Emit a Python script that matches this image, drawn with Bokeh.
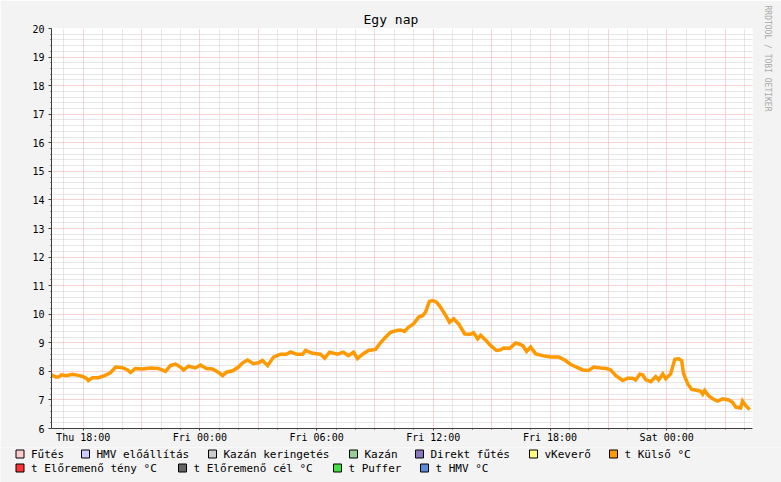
import numpy as np
import pandas as pd
from bokeh.plotting import figure
from bokeh.models import (Range1d, FixedTicker, DatetimeTickFormatter, Title)
from bokeh.core.properties import value
from bokeh.embed import file_html
from bokeh.resources import INLINE

# ---------------- data ----------------
times_thu = ["16:22", "16:35", "16:44", "16:53", "17:08", "17:27", "17:45", "17:58",
             "18:10", "18:16", "18:29", "18:47", "19:06", "19:24", "19:40", "20:01",
             "20:17", "20:26", "20:41", "21:03", "21:28", "21:52", "22:14", "22:29",
             "22:45", "23:00", "23:10", "23:25", "23:46"]
temps_thu = [7.88, 7.80, 7.80, 7.88, 7.85, 7.90, 7.86, 7.82,
             7.75, 7.68, 7.78, 7.78, 7.85, 7.95, 8.15, 8.13,
             8.05, 7.96, 8.10, 8.08, 8.12, 8.10, 8.00, 8.20,
             8.25, 8.15, 8.05, 8.18, 8.12]
times_fri = ["00:02", "00:20", "00:39", "00:55", "01:10", "01:22", "01:41", "01:59",
             "02:12", "02:27", "02:45", "03:01", "03:13", "03:29", "03:47", "04:09",
             "04:27", "04:40", "04:58", "05:17", "05:26", "05:47", "06:12", "06:25",
             "06:40", "07:05", "07:23", "07:38", "07:54", "08:06", "08:22", "08:40",
             "09:02", "09:17", "09:29", "09:48", "10:07", "10:19", "10:31", "10:44",
             "10:59", "11:15", "11:27", "11:36", "11:48", "11:58", "12:10", "12:22",
             "12:38", "12:50", "13:03", "13:18", "13:37", "13:55", "14:04", "14:17",
             "14:26", "14:41", "14:57", "15:15", "15:27", "15:37", "15:55", "16:14",
             "16:26", "16:36", "16:48", "17:00", "17:16", "17:37", "18:02", "18:27",
             "18:48", "19:04", "19:22", "19:41", "19:59", "20:15", "20:36", "20:55",
             "21:07", "21:23", "21:32", "21:44", "22:00", "22:15", "22:24", "22:37",
             "22:46", "22:55", "23:11", "23:26", "23:35", "23:48", "23:57"]
temps_fri = [8.22, 8.10, 8.08, 7.98, 7.85, 7.97, 8.02, 8.15,
             8.30, 8.40, 8.27, 8.30, 8.38, 8.20, 8.50, 8.60,
             8.60, 8.68, 8.60, 8.60, 8.73, 8.63, 8.60, 8.46,
             8.67, 8.60, 8.67, 8.55, 8.67, 8.45, 8.60, 8.73,
             8.77, 9.00, 9.15, 9.37, 9.43, 9.45, 9.40, 9.55,
             9.66, 9.90, 9.95, 10.07, 10.45, 10.48, 10.42, 10.25,
             9.96, 9.72, 9.84, 9.66, 9.31, 9.30, 9.35, 9.14,
             9.26, 9.10, 8.90, 8.73, 8.75, 8.82, 8.80, 8.99,
             8.95, 8.90, 8.70, 8.85, 8.61, 8.55, 8.50, 8.50,
             8.38, 8.24, 8.15, 8.05, 8.03, 8.15, 8.12, 8.10,
             8.05, 7.85, 7.78, 7.68, 7.76, 7.76, 7.70, 7.90,
             7.88, 7.71, 7.64, 7.82, 7.70, 7.91, 7.74]
times_sat = ["00:12", "00:25", "00:37", "00:46", "00:52", "01:05", "01:17", "01:32",
             "01:45", "01:51", "01:57", "02:09", "02:22", "02:37", "02:53", "03:11",
             "03:23", "03:33", "03:48", "03:54", "04:04", "04:16"]
temps_sat = [7.91, 8.42, 8.44, 8.38, 7.92, 7.56, 7.37, 7.34,
             7.30, 7.20, 7.33, 7.15, 7.04, 6.96, 7.04, 7.00,
             6.92, 6.75, 6.72, 6.96, 6.80, 6.66]

day_thu, day_fri, day_sat = "2024-01-18", "2024-01-19", "2024-01-20"
x_start, x_end = "2024-01-18 16:22:12", "2024-01-20 04:24:40"
y_start, y_end = 6, 20

title_text = "Egy nap"
legend_row1 = ["Fűtés", "HMV előállítás", "Kazán keringetés", "Kazán",
               "Direkt fűtés", "vKeverő", "t Külső °C"]
colors_row1 = ["#ffcccc", "#ccccff", "#cccccc", "#99cc99", "#8877bb", "#ffff80", "#ff9900"]
legend_row2 = ["t Előremenő tény °C", "t Előremenő cél °C", "t Puffer", "t HMV °C"]
colors_row2 = ["#ff3333", "#666666", "#44dd44", "#5b8ddb"]
watermark = "RRDTOOL / TOBI OETIKER"

# ---------------- layout (pixel positions of legend texts) ----------------
W, H_MAIN, H_LEG = 781, 447, 35
pos_row1 = [30.5, 96, 223, 364, 430, 544, 624]
pos_row2 = [30.5, 193, 348, 435]
row1_y, row2_y = 453.5, 467.5

times = pd.to_datetime([f"{day_thu} {t}" for t in times_thu] +
                       [f"{day_fri} {t}" for t in times_fri] +
                       [f"{day_sat} {t}" for t in times_sat])
temps = temps_thu + temps_fri + temps_sat


def ms(ts):
    return pd.Timestamp(ts).value // 10**6


MONO = "DejaVu Sans Mono"
BG = "#f3f3f3"
p = figure(width=W, height=H_MAIN, output_backend="svg", toolbar_location=None,
           title=None, x_axis_type="datetime",
           x_range=Range1d(ms(x_start), ms(x_end)),
           y_range=Range1d(y_start, y_end),
           min_border_left=51, min_border_right=29, min_border_top=28,
           min_border_bottom=H_MAIN - 428)
p.border_fill_color = BG
p.background_fill_color = "#ffffff"
p.outline_line_color = None

# ticks
label_ticks = [ms(t) for t in pd.date_range("2024-01-18 18:00", "2024-01-20 00:00", freq="6h")]
grid_major = [ms(t) for t in pd.date_range("2024-01-18 18:00", "2024-01-20 03:00", freq="3h")]
grid_minor = [ms(t) for t in pd.date_range("2024-01-18 17:00", "2024-01-20 04:00", freq="1h")
              if ms(t) not in grid_major]
y_major = list(range(y_start, y_end + 1))
y_minor = [round(v, 1) for v in np.arange(y_start, y_end + 0.001, 0.2)
           if abs(v - round(v)) > 1e-6]

xa = p.xaxis[0]
xa.ticker = FixedTicker(ticks=label_ticks, minor_ticks=grid_minor + grid_major)
fmt = "%a %H:%M"
xa.formatter = DatetimeTickFormatter(hours=fmt, hourmin=fmt, days=fmt, minutes=fmt,
                                     minsec=fmt, seconds=fmt, months=fmt, years=fmt)
ya = p.yaxis[0]
ya.ticker = FixedTicker(ticks=y_major, minor_ticks=y_minor)
for ax in (xa, ya):
    ax.axis_line_color = "#404040"
    ax.major_tick_line_color = "#404040"
    ax.minor_tick_line_color = "#404040"
    ax.major_label_text_font = MONO
    ax.major_label_text_font_size = "10px"
    ax.major_label_text_color = "#000000"
    ax.major_tick_in = 0
    ax.minor_tick_in = 0
xa.major_tick_out = 2
xa.minor_tick_out = 1
xa.major_label_standoff = 1
ya.major_tick_out = 3
ya.minor_tick_out = 1
ya.major_label_standoff = 4

p.xgrid.ticker = FixedTicker(ticks=grid_major, minor_ticks=grid_minor)
p.ygrid.ticker = FixedTicker(ticks=y_major, minor_ticks=y_minor)
for g in (p.xgrid[0], p.ygrid[0]):
    g.grid_line_color = "#f0a8a8"
    g.grid_line_dash = "1 1"
    g.grid_line_width = 1
    g.minor_grid_line_color = "#cfcfcf"
    g.minor_grid_line_dash = "1 1"
    g.minor_grid_line_width = 1

# data line
p.line(times, temps, line_color="#ff9900", line_width=3.5, line_join="miter")

# title and watermark
p.add_layout(Title(text=title_text, align="left", offset=312, standoff=4,
                   vertical_align="bottom", text_font=MONO, text_font_size="13px",
                   text_font_style="normal", text_color="#000000"), "above")
p.add_layout(Title(text=watermark, align="left", offset=-23, standoff=16,
                   vertical_align="top", text_font=MONO, text_font_size="8px",
                   text_font_style="normal", text_color="#a9a9a9"), "right")

# legend strip (pixel coordinates, y grows downwards like the page)
lg = figure(width=W, height=H_LEG, output_backend="svg", toolbar_location=None,
            title=None, x_axis_type=None, y_axis_type=None,
            x_range=Range1d(0, W), y_range=Range1d(H_MAIN + H_LEG, H_MAIN),
            min_border_left=0, min_border_right=0, min_border_top=0,
            min_border_bottom=0)
lg.border_fill_color = BG
lg.background_fill_color = BG
lg.outline_line_color = None
lg.grid.visible = False

names = legend_row1 + legend_row2
colors = colors_row1 + colors_row2
xs = pos_row1 + pos_row2
ys = [row1_y] * len(pos_row1) + [row2_y] * len(pos_row2)
lg.rect(x=[x - 11 for x in xs], y=ys, width=8, height=8, fill_color=colors,
        line_color="#000000", line_width=1)
lg.text(x=xs, y=ys, text=names, text_font=value(MONO), text_font_size="11px",
        text_baseline="middle", text_align="left", text_color="#000000")

open("out.html", "w").write(file_html([p, lg], INLINE))
